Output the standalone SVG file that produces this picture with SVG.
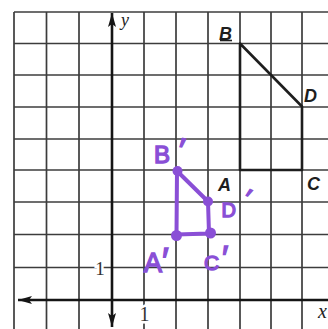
<svg xmlns="http://www.w3.org/2000/svg" width="328" height="329" viewBox="0 0 328 329">
<style>
.grid line{stroke:#3c3c3c;stroke-width:1.7}
.axis{stroke:#151515;stroke-width:2.6;fill:none}
.fig{stroke:#1e1e1e;stroke-width:2.6;fill:none;stroke-linejoin:round}
.lbl{font-family:"Liberation Sans",Arial,sans-serif;font-weight:bold;font-style:italic;font-size:18px;fill:#1e1e1e}
.num{font-family:"Liberation Serif","Times New Roman",serif;fill:#333;stroke:#fff;stroke-width:5px;paint-order:stroke;text-anchor:middle}
.ax{font-family:"Liberation Serif","Times New Roman",serif;font-style:italic;fill:#222}
.pfig{stroke:#8a4fd6;stroke-width:4;fill:none;stroke-linejoin:round;stroke-linecap:round}
.pdot{fill:#8a4fd6}
.plbl{font-family:"Liberation Sans",Arial,sans-serif;fill:#8a4fd6;stroke:#8a4fd6;stroke-width:1.4px}
</style>
<defs>
<marker id="ah" viewBox="0 0 14 8" refX="14" refY="4" markerWidth="14" markerHeight="8" markerUnits="userSpaceOnUse" orient="auto-start-reverse">
<path d="M0,0 L14,4 L0,8 L3,4 z" fill="#151515"/>
</marker>
</defs>
<rect width="328" height="329" fill="#fff"/>
<g id="grid" class="grid">
<line x1="14" y1="12" x2="14" y2="329"/>
<line x1="46.5" y1="12" x2="46.5" y2="329"/>
<line x1="79" y1="12" x2="79" y2="329"/>
<line x1="144" y1="12" x2="144" y2="329"/>
<line x1="176" y1="12" x2="176" y2="329"/>
<line x1="208" y1="12" x2="208" y2="329"/>
<line x1="240" y1="12" x2="240" y2="329"/>
<line x1="271" y1="12" x2="271" y2="329"/>
<line x1="302" y1="12" x2="302" y2="329"/>
<line x1="14" y1="12" x2="328" y2="12"/>
<line x1="14" y1="43.5" x2="328" y2="43.5"/>
<line x1="14" y1="75" x2="328" y2="75"/>
<line x1="14" y1="107" x2="328" y2="107"/>
<line x1="14" y1="139" x2="328" y2="139"/>
<line x1="14" y1="170" x2="328" y2="170"/>
<line x1="14" y1="202" x2="328" y2="202"/>
<line x1="14" y1="234.5" x2="328" y2="234.5"/>
<line x1="14" y1="267.5" x2="328" y2="267.5"/>
</g>
<g id="axes">
<line class="axis" x1="112" y1="327" x2="112" y2="13" marker-start="url(#ah)" marker-end="url(#ah)"/>
<line class="axis" x1="18" y1="300" x2="328" y2="300" marker-start="url(#ah)"/>
<text class="ax" x="121" y="26" font-size="18">y</text>
<text class="ax" x="318" y="318" font-size="20">x</text>
<text class="num" x="100" y="275" font-size="19">1</text>
<text class="num" x="144.5" y="321" font-size="20">1</text>
</g>
<g id="figure-ABCD">
<path class="fig" d="M240,43.5 L302,106.5 L302,170 L240,170 Z"/>
<text class="lbl" x="219" y="40">B</text>
<line x1="220" y1="40.5" x2="232" y2="40.5" stroke="#1e1e1e" stroke-width="1.6"/>
<text class="lbl" x="304" y="102">D</text>
<text class="lbl" x="218" y="191">A</text>
<text class="lbl" x="307" y="190">C</text>
</g>
<g id="figure-A1B1C1D1">
<path class="pfig" d="M177,171 L208,201.5 L209,233.5 L176.5,234.5 Z"/>
<circle class="pdot" cx="177.5" cy="171" r="5"/>
<circle class="pdot" cx="208" cy="201.5" r="5"/>
<circle class="pdot" cx="210.5" cy="233" r="5.5"/>
<circle class="pdot" cx="176.5" cy="235.5" r="5.5"/>
<text class="plbl" x="154" y="163" font-size="24">B<tspan x="176" y="161" font-size="34" rotate="10">′</tspan></text>
<text class="plbl" x="144" y="272" font-size="27">A<tspan x="162" y="274" font-size="36">′</tspan></text>
<text class="plbl" x="204" y="270" font-size="21">C<tspan x="222" y="269" font-size="34">′</tspan></text>
<g id="label-D1">
<text class="plbl" x="221.5" y="217" font-size="20">D</text>
<text class="plbl" x="240" y="206" font-size="28" rotate="25">′</text>
</g>
</g>
</svg>
